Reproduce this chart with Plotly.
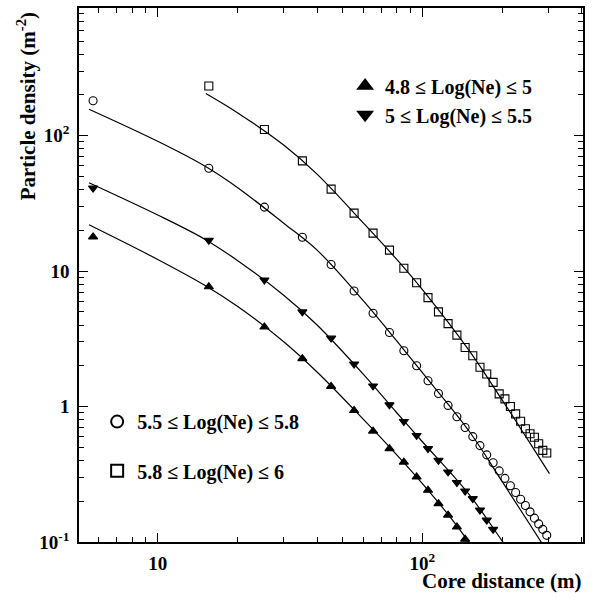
import plotly.graph_objects as go

# Lateral particle density vs. core distance, four shower-size bins
dist_a = [5.7, 15.6, 25.3, 35.2, 45.2, 55.2, 65.1, 75.1, 85.1, 95.1, 105, 115, 125, 135, 145]
dens_a = [17.9, 7.67, 3.87, 2.26, 1.41, 0.935, 0.659, 0.489, 0.389, 0.302, 0.241, 0.192, 0.158, 0.129, 0.105]

dist_b = [5.7, 15.6, 25.3, 35.2, 45.2, 55.2, 65.1, 75.1, 85.1, 95.1, 105, 115, 125, 135, 145,
          155, 165, 175, 185]
dens_b = [41, 16.9, 8.6, 5.0, 3.2, 2.06, 1.42, 1.03, 0.776, 0.612, 0.489, 0.401, 0.329, 0.275, 0.238,
          0.209, 0.172, 0.145, 0.124]

dist_c = [5.7, 15.6, 25.3, 35.2, 45.2, 55.2, 65.1, 75.1, 85.1, 95.1, 105, 115, 125, 135, 145,
          155, 165, 175, 185, 195, 205, 215, 225, 235, 245, 255, 265, 275, 285, 295]
dens_c = [181, 57.5, 29.7, 17.8, 11.2, 7.13, 4.89, 3.52, 2.58, 2.0, 1.55, 1.25, 1.02, 0.84, 0.70,
          0.60, 0.515, 0.44, 0.385, 0.335, 0.295, 0.26, 0.232, 0.207, 0.186, 0.167, 0.150, 0.136,
          0.124, 0.112]

dist_d = [15.6, 25.3, 35.2, 45.2, 55.2, 65.1, 75.1, 85.1, 95.1, 105, 115, 125, 135, 145,
          155, 165, 175, 185, 195, 205, 215, 225, 235, 245, 255, 265, 275, 285, 295]
dens_d = [233, 111, 65.2, 40.3, 26.8, 19.1, 14.3, 10.5, 8.2, 6.37, 5.0, 4.1, 3.37, 2.73,
          2.37, 1.95, 1.74, 1.51, 1.24, 1.14, 1.0, 0.883, 0.779, 0.686, 0.630, 0.594, 0.532, 0.475,
          0.454]

# Fitted lateral distribution functions
fit_a_r = [5.5, 10, 15, 20, 30, 40, 60, 80, 100, 130, 160]
fit_a_rho = [22, 12.2, 7.9, 5.5, 3.0, 1.8, 0.80, 0.44, 0.27, 0.145, 0.083]
fit_b_r = [5.5, 10, 15, 20, 30, 40, 60, 80, 100, 150, 200, 230]
fit_b_rho = [45, 26, 17.3, 12.0, 6.6, 4.0, 1.72, 0.90, 0.55, 0.225, 0.102, 0.07]
fit_c_r = [5.5, 10, 15, 20, 30, 40, 60, 80, 100, 150, 200, 300]
fit_c_rho = [157, 91, 60, 41.5, 22.5, 14.3, 6.0, 3.05, 1.78, 0.66, 0.28, 0.082]
fit_d_r = [15.2, 20, 30, 40, 60, 80, 100, 150, 200, 250, 302]
fit_d_rho = [205, 148, 85, 52, 22.5, 12.2, 7.3, 2.6, 1.12, 0.57, 0.32]

labels = ["4.8 \u2264 Log(Ne) \u2264 5", "5 \u2264 Log(Ne) \u2264 5.5",
          "5.5 \u2264 Log(Ne) \u2264 5.8", "5.8 \u2264 Log(Ne) \u2264 6"]

x_ticks = [10, 100]
x_ticktext = ["10", "10<sup>2</sup>"]
y_ticks = [0.1, 1, 10, 100]
y_ticktext = ["10<sup>-1</sup>", "1", "10", "10<sup>2</sup>"]

FONT = "Liberation Serif"
BLACK = "black"

fig = go.Figure()

for r, rho in [(fit_a_r, fit_a_rho), (fit_b_r, fit_b_rho), (fit_c_r, fit_c_rho), (fit_d_r, fit_d_rho)]:
    fig.add_trace(go.Scatter(x=r, y=rho, mode="lines", line=dict(color=BLACK, width=1.2, shape="spline"),
                             showlegend=False, hoverinfo="skip"))

series = [
    (dist_a, dens_a, "triangle-up", BLACK, labels[0], "legend"),
    (dist_b, dens_b, "triangle-down", BLACK, labels[1], "legend"),
    (dist_c, dens_c, "circle-open", BLACK, labels[2], "legend2"),
    (dist_d, dens_d, "square-open", BLACK, labels[3], "legend3"),
]
for x, y, sym, col, name, leg in series:
    fig.add_trace(go.Scatter(x=x, y=y, mode="markers", name=name, legend=leg,
                             marker=dict(symbol=sym, size=8, color=col,
                                         line=dict(color=BLACK, width=1.1))))

axis_common = dict(
    type="log", showgrid=False, zeroline=False, showline=True, linecolor=BLACK, linewidth=1.5,
    mirror="ticks", ticks="inside", ticklen=9, tickwidth=1.2, tickcolor=BLACK,
    tickfont=dict(family=FONT, size=19, color=BLACK, weight="bold"),
)

fig.update_xaxes(**axis_common, range=[0.7027, 2.6067], tickvals=x_ticks, ticktext=x_ticktext,
                 ticklabelstandoff=3,
                 minor=dict(tickvals=[6, 7, 8, 9, 20, 30, 40, 50, 60, 70, 80, 90, 200, 300, 400],
                            ticks="inside", ticklen=5, tickwidth=1, tickcolor=BLACK, showgrid=False))
fig.update_yaxes(**axis_common, range=[-1, 2.943], tickvals=y_ticks, ticktext=y_ticktext,
                 ticklabelstandoff=4,
                 minor=dict(tickvals=[m * 10 ** e for e in (-1, 0, 1, 2) for m in range(2, 10)],
                            ticks="inside", ticklen=5, tickwidth=1, tickcolor=BLACK, showgrid=False))

legend_font = dict(family=FONT, size=20, color=BLACK, weight="bold")
leg_common = dict(font=legend_font, bgcolor="rgba(0,0,0,0)", borderwidth=0, itemsizing="constant",
                  xanchor="left", yanchor="top", tracegroupgap=0)

fig.update_layout(
    width=598, height=597,
    margin=dict(l=79, r=15, t=6, b=55),
    paper_bgcolor="white", plot_bgcolor="white",
    legend=dict(**leg_common, x=0.528, y=0.891),
    legend2=dict(**leg_common, x=0.036, y=0.262),
    legend3=dict(**leg_common, x=0.036, y=0.170),
    annotations=[
        dict(text="Particle density (m<sup>-2</sup>)", textangle=-90, xref="paper", yref="paper",
             x=-0.104, y=0.815, xanchor="center", yanchor="middle", showarrow=False,
             font=dict(family=FONT, size=21, color=BLACK, weight="bold")),
        dict(text="Core distance (m)", xref="paper", yref="paper", x=1.0, y=-0.0725,
             xanchor="right", yanchor="middle", showarrow=False,
             font=dict(family=FONT, size=21, color=BLACK, weight="bold")),
    ],
)

fig.write_html("out.html")
